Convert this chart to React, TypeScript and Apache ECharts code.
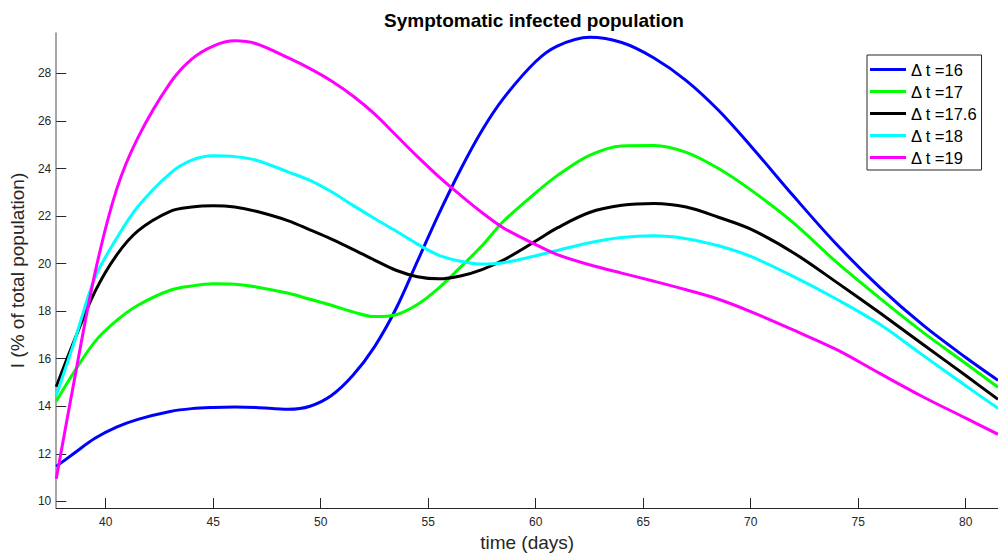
import React, { useEffect, useRef } from "react";
import * as echarts from "echarts";

const times = [37.7, 38.5, 39.5, 40.5, 41.5, 43, 44, 45, 46, 47, 48.5, 49.5, 50.5, 51.5, 52.5, 53.5, 54.5, 55.5, 56.5, 57.5, 58.5, 60, 61, 62.5, 64, 65.5, 67, 68.5, 70, 72, 74, 76, 78, 80, 81.5];
const dt16 = [11.47, 12.0, 12.65, 13.12, 13.45, 13.78, 13.9, 13.95, 13.97, 13.95, 13.87, 14.0, 14.45, 15.3, 16.5, 18.1, 20.1, 22.1, 23.95, 25.6, 26.95, 28.5, 29.15, 29.52, 29.3, 28.65, 27.7, 26.45, 24.95, 22.83, 20.8, 19.0, 17.42, 16.05, 15.09];
const dt17 = [14.21, 15.4, 16.72, 17.6, 18.25, 18.88, 19.06, 19.15, 19.13, 19.02, 18.75, 18.5, 18.25, 17.97, 17.77, 17.85, 18.28, 18.98, 19.85, 20.75, 21.78, 22.98, 23.7, 24.55, 24.95, 24.97, 24.68, 24.0, 23.1, 21.7, 20.05, 18.55, 17.12, 15.8, 14.8];
const dt176 = [14.82, 16.68, 18.82, 20.35, 21.38, 22.2, 22.38, 22.43, 22.38, 22.2, 21.8, 21.42, 21.03, 20.6, 20.15, 19.72, 19.45, 19.36, 19.48, 19.75, 20.15, 20.95, 21.5, 22.15, 22.45, 22.53, 22.38, 21.95, 21.45, 20.45, 19.21, 17.93, 16.61, 15.29, 14.29];
const dt18 = [14.45, 16.6, 19.4, 21.05, 22.4, 23.8, 24.35, 24.54, 24.5, 24.35, 23.85, 23.5, 23.02, 22.45, 21.9, 21.37, 20.82, 20.35, 20.1, 19.98, 20.04, 20.33, 20.55, 20.88, 21.1, 21.17, 21.05, 20.75, 20.3, 19.45, 18.5, 17.45, 16.15, 14.86, 13.91];
const dt19 = [10.95, 14.9, 19.6, 23.1, 25.3, 27.6, 28.6, 29.15, 29.37, 29.25, 28.65, 28.2, 27.68, 27.05, 26.3, 25.4, 24.5, 23.65, 22.88, 22.15, 21.5, 20.8, 20.38, 19.95, 19.6, 19.26, 18.9, 18.5, 17.98, 17.2, 16.38, 15.38, 14.4, 13.5, 12.82];

const seriesNames = ["Δ t =16", "Δ t =17", "Δ t =17.6", "Δ t =18", "Δ t =19"];
const seriesValues = [dt16, dt17, dt176, dt18, dt19];
const seriesColors = ["#0000ff", "#00ff00", "#000000", "#00ffff", "#ff00ff"];

const xTicks = [40, 45, 50, 55, 60, 65, 70, 75, 80];
const yTicks = [10, 12, 14, 16, 18, 20, 22, 24, 26, 28];

const FONT = "Liberation Sans, Arial, Helvetica, sans-serif";

export default function App() {
  const ref = useRef<HTMLDivElement>(null);
  useEffect(() => {
    const chart = echarts.init(ref.current!, null, { renderer: "svg" });
    chart.setOption({
      animation: false,
      backgroundColor: "#ffffff",
      title: {
        text: "Symptomatic infected population",
        left: 529,
        textAlign: "center",
        top: 6,
        textStyle: { fontFamily: FONT, fontSize: 19, fontWeight: "bold", color: "#000" },
      },
      legend: {
        left: 867,
        top: 55,
        orient: "vertical",
        padding: [6, 4, 4, 3],
        itemGap: 5,
        itemWidth: 36,
        itemHeight: 3,
        icon: "rect",
        borderColor: "#262626",
        borderWidth: 1,
        backgroundColor: "#fff",
        textStyle: { fontFamily: FONT, fontSize: 16.5, color: "#000", padding: [0, 7, 0, 0] },
        data: seriesNames,
      },
      grid: { left: 52, right: 0, top: 33, bottom: 47, containLabel: false },
      xAxis: {
        type: "value",
        min: 37.7,
        max: 81.5,
        name: "time (days)",
        nameLocation: "middle",
        nameGap: 25,
        nameTextStyle: { fontFamily: FONT, fontSize: 19, color: "#262626" },
        axisLine: { onZero: false, lineStyle: { color: "#262626", width: 1 } },
        axisTick: { inside: true, length: 10, customValues: xTicks, lineStyle: { color: "#262626" } },
        axisLabel: { customValues: xTicks, fontFamily: FONT, fontSize: 12, color: "#262626", margin: 8 },
        splitLine: { show: false },
      },
      yAxis: {
        type: "value",
        min: 9.72,
        max: 29.7,
        name: "I (% of total population)",
        nameLocation: "middle",
        nameGap: 23,
        nameTextStyle: { fontFamily: FONT, fontSize: 19, color: "#262626" },
        axisLine: { show: true, onZero: false, lineStyle: { color: "#888888", width: 1.5 } },
        axisTick: { show: true, inside: true, length: 10, customValues: yTicks, lineStyle: { color: "#262626" } },
        axisLabel: { customValues: yTicks, fontFamily: FONT, fontSize: 12, color: "#262626", margin: 5 },
        splitLine: { show: false },
      },
      series: seriesNames.map((name, i) => ({
        name,
        type: "line",
        smooth: 0.34,
        showSymbol: false,
        symbol: "none",
        clip: true,
        color: seriesColors[i],
        lineStyle: { width: 3, color: seriesColors[i] },
        data: times.map((t, j) => [t, seriesValues[i][j]]),
      })),
    });
    return () => chart.dispose();
  }, []);
  return <div ref={ref} style={{ width: 998, height: 557, position: "absolute", left: 0, top: 0 }} />;
}
